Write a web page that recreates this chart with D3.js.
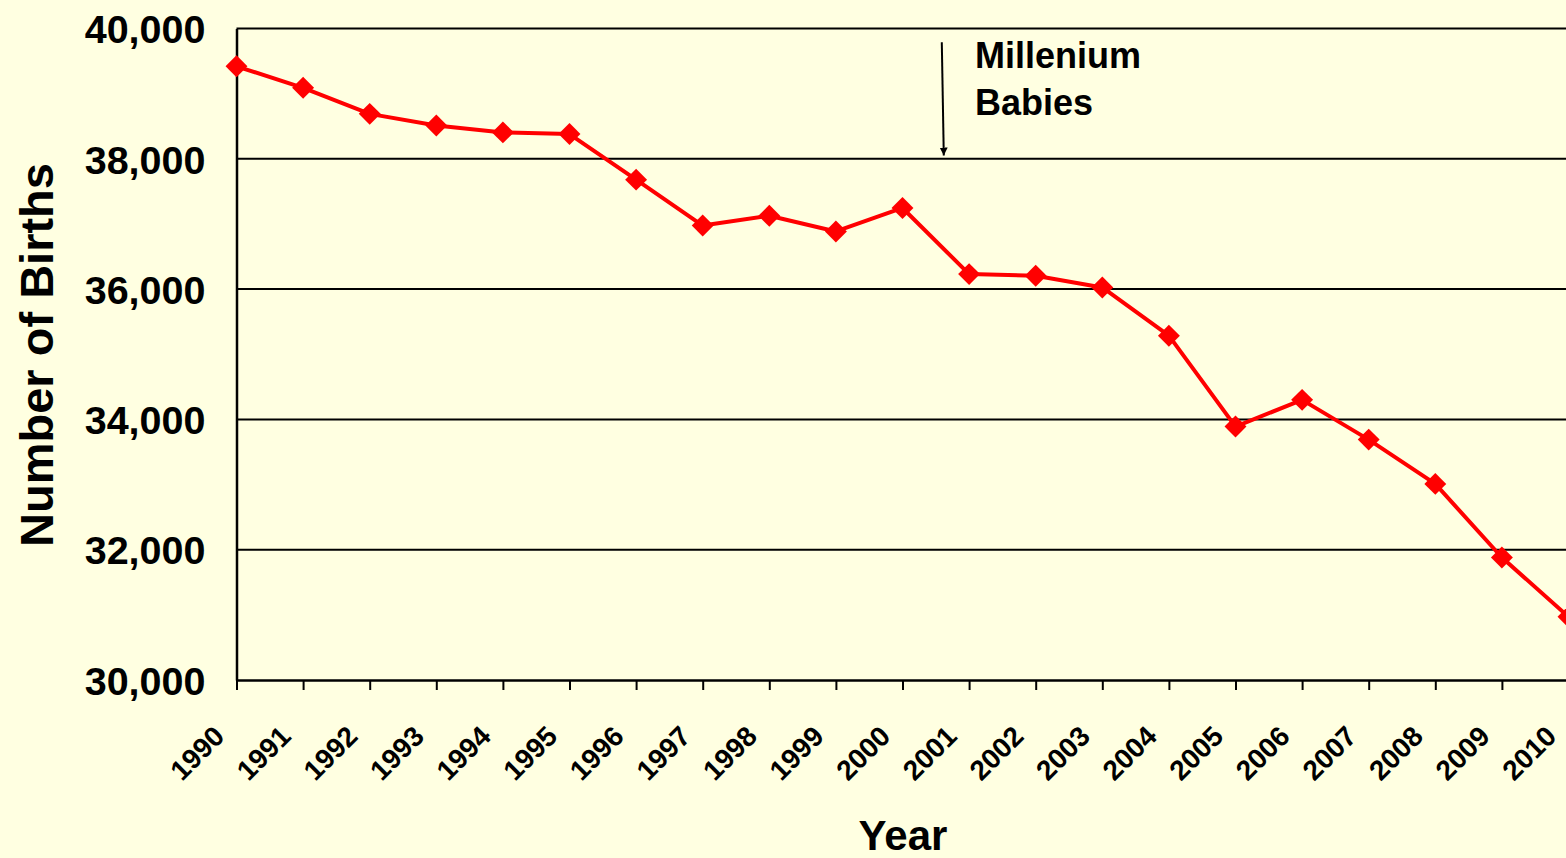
<!DOCTYPE html>
<html>
<head>
<meta charset="utf-8">
<script src="https://cdn.jsdelivr.net/npm/d3@7"></script>
<style>
  html, body { margin: 0; padding: 0; background: #FFFFE1; overflow: hidden; }
  svg { display: block; font-family: "Liberation Sans", Arial, sans-serif; font-weight: bold; }
</style>
</head>
<body>
<svg id="chart"></svg>
<script>
  'use strict';

  var years = [1990, 1991, 1992, 1993, 1994, 1995, 1996, 1997, 1998, 1999, 2000,
    2001, 2002, 2003, 2004, 2005, 2006, 2007, 2008, 2009, 2010];
  var births = [39420, 39090, 38690, 38510, 38405, 38380, 37680, 36975, 37125, 36885, 37245,
    36230, 36205, 36025, 35285, 33890, 34300, 33690, 33010, 31880, 30970];
  var yTicks = [30000, 32000, 34000, 36000, 38000, 40000];
  var annotationLines = ['Millenium', 'Babies'];

  var width = 1566;
  var height = 858;

  var svg = d3.select('#chart')
    .attr('width', width)
    .attr('height', height);

  svg.append('rect')
    .attr('width', width)
    .attr('height', height)
    .attr('fill', '#FFFFE1');

  /* Scales: plot runs past the right edge of the picture, as in the original */
  var x = d3.scaleLinear().domain([1990, 2010]).range([236.5, 1568.5]);
  var y = d3.scaleLinear().domain([30000, 40000]).range([680, 28.5]);

  /* Horizontal grid */
  svg.append('g')
    .attr('class', 'grid')
    .selectAll('line')
    .data(yTicks.slice(1))
    .enter().append('line')
      .attr('x1', x(1990))
      .attr('x2', width)
      .attr('y1', function(d) { return y(d); })
      .attr('y2', function(d) { return y(d); })
      .attr('stroke', '#000')
      .attr('stroke-width', 2);

  /* Y axis */
  var yAxis = d3.axisLeft(y)
    .tickValues(yTicks)
    .tickSize(0)
    .tickPadding(31)
    .tickFormat(d3.format(','));

  var gY = svg.append('g')
    .attr('transform', 'translate(' + x(1990) + ',0)')
    .call(yAxis);
  gY.select('.domain').attr('stroke', '#000').attr('stroke-width', 2.5);
  gY.selectAll('text')
    .attr('font-size', 39.5)
    .attr('fill', '#000')
    .attr('dy', '0.36em');

  /* X axis */
  var xAxis = d3.axisBottom(x)
    .tickValues(years)
    .tickSize(10)
    .tickSizeOuter(0)
    .tickFormat(d3.format('d'));

  var gX = svg.append('g')
    .attr('transform', 'translate(0,' + y(30000) + ')')
    .call(xAxis);
  gX.select('.domain').attr('stroke', '#000').attr('stroke-width', 2.5);
  gX.selectAll('.tick line').attr('stroke', '#000').attr('stroke-width', 2);
  gX.selectAll('text')
    .attr('font-size', 28)
    .attr('fill', '#000')
    .attr('text-anchor', 'end')
    .attr('y', 0)
    .attr('dy', 0)
    .attr('transform', 'translate(-11,58) rotate(-45)');

  /* Axis titles */
  svg.append('text')
    .attr('transform', 'translate(53,355) rotate(-90)')
    .attr('text-anchor', 'middle')
    .attr('font-size', 47)
    .text('Number of Births');

  svg.append('text')
    .attr('x', 903)
    .attr('y', 850)
    .attr('text-anchor', 'middle')
    .attr('font-size', 42)
    .text('Year');

  /* Line and diamond markers */
  var points = years.map(function(d, i) { return { year: d, value: births[i] }; });

  var line = d3.line()
    .x(function(d) { return x(d.year); })
    .y(function(d) { return y(d.value); });

  svg.append('path')
    .datum(points)
    .attr('fill', 'none')
    .attr('stroke', '#FF0000')
    .attr('stroke-width', 4)
    .attr('stroke-linejoin', 'round')
    .attr('d', line);

  var diamond = d3.symbol().type(d3.symbolSquare).size(240);

  svg.append('g')
    .selectAll('.point')
    .data(points)
    .enter().append('path')
      .attr('class', 'point')
      .attr('fill', '#FF0000')
      .attr('d', diamond)
      .attr('transform', function(d) {
        return 'translate(' + x(d.year) + ',' + y(d.value) + ') rotate(45)';
      });

  /* Millenium Babies annotation */
  var defs = svg.append('defs');
  defs.append('marker')
    .attr('id', 'arrow')
    .attr('viewBox', '0 0 10 10')
    .attr('refX', 10)
    .attr('refY', 5)
    .attr('markerWidth', 4)
    .attr('markerHeight', 4.5)
    .attr('orient', 'auto')
    .append('path')
      .attr('d', 'M0,0L10,5L0,10Z')
      .attr('fill', '#000');

  svg.append('line')
    .attr('x1', x(2000.59))
    .attr('y1', y(39790))
    .attr('x2', x(2000.62))
    .attr('y2', y(38050))
    .attr('stroke', '#000')
    .attr('stroke-width', 2)
    .attr('marker-end', 'url(#arrow)');

  svg.append('text')
    .attr('font-size', 36)
    .selectAll('tspan')
    .data(annotationLines)
    .enter().append('tspan')
      .attr('x', 975)
      .attr('y', function(d, i) { return 68 + i * 47; })
      .text(function(d) { return d; });
</script>
</body>
</html>
